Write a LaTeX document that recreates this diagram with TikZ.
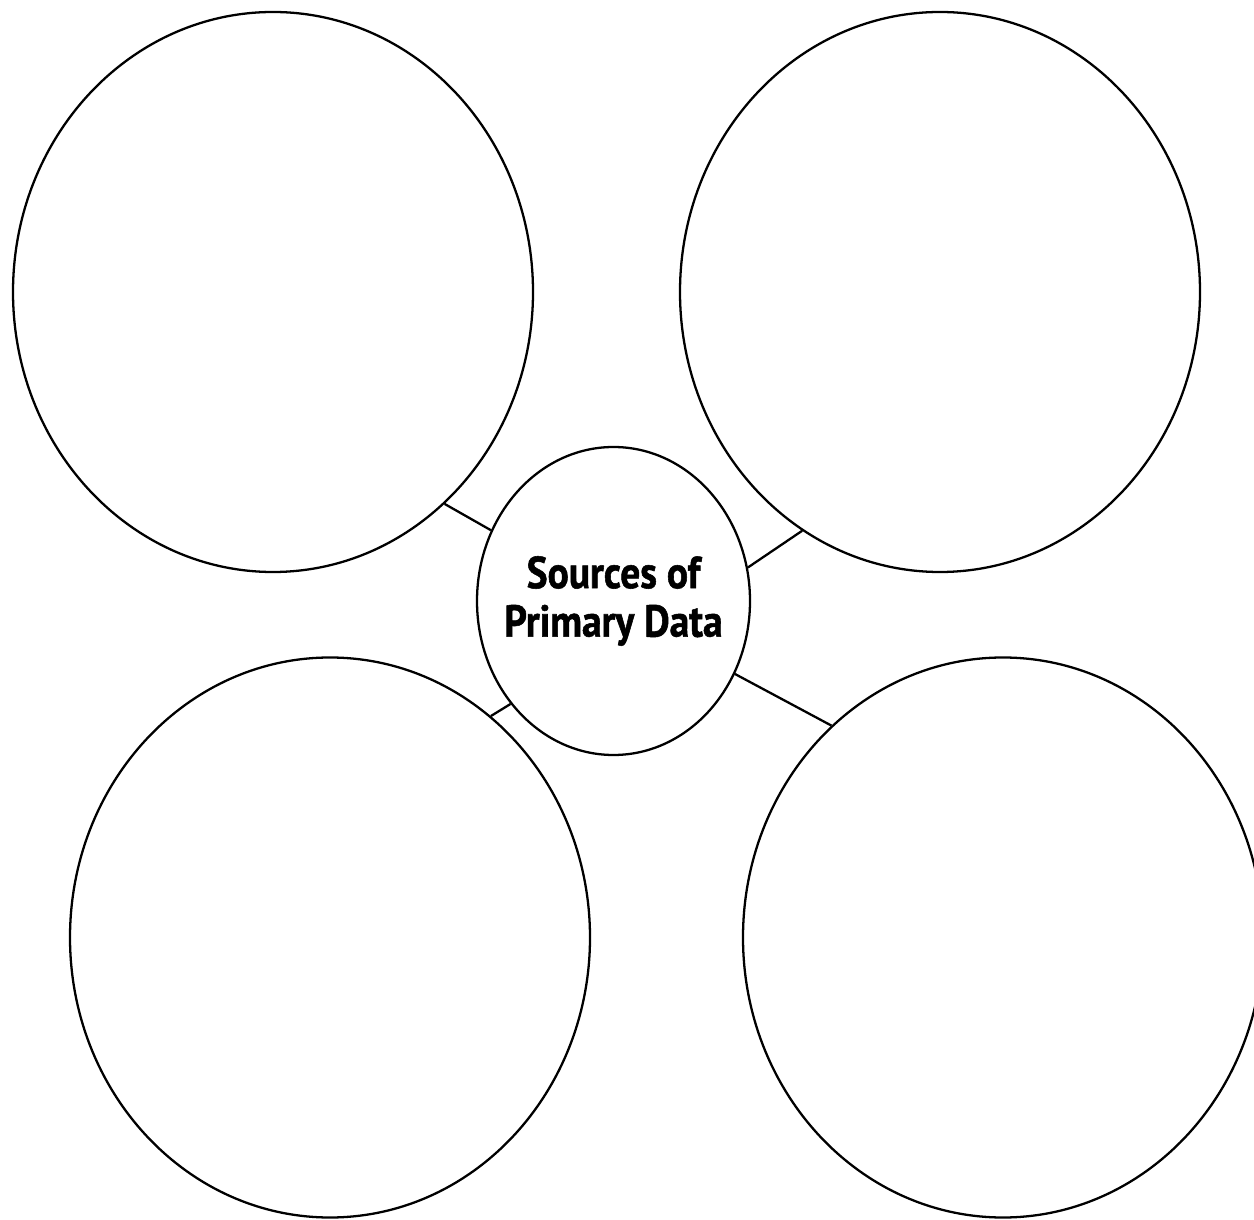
\documentclass[tikz,border=0pt]{standalone}
\usepackage{fontspec}
\setmainfont[FakeStretch=0.88]{PT Sans}
\newfontfamily\hubfont[FakeStretch=0.88, BoldFeatures={FakeBold=1.2}]{PT Sans}
\usetikzlibrary{shapes.geometric}

\begin{document}
\begin{tikzpicture}[
  bubble/.style={ellipse, draw, line width=1.3pt, minimum width=10.4cm, minimum height=11.2cm, inner sep=0pt},
  hub/.style={ellipse, draw, line width=1.3pt, minimum width=5.46cm, minimum height=6.16cm, inner sep=0pt},
  title/.style={align=center, inner sep=0pt, font=\hubfont\fontsize{25.5}{27.6}\selectfont\bfseries},
  link/.style={line width=1.3pt},
]
\useasboundingbox (0,0) rectangle (25.08,24.38);

% === FOUR OUTER BUBBLES ===
\node[bubble] (tl) at (5.46, 18.54) {};
\node[bubble] (tr) at (18.80, 18.54) {};
\node[bubble] (bl) at (6.60, 5.63) {};
\node[bubble] (br) at (20.06, 5.63) {};

% === CENTRE ===
\node[hub] (src) at (12.27, 12.36) {};
\node[title] (srctext) at (src.center) {Sources of\\Primary Data};

\draw[link] (src.150.3) -- (tl.-51.3);
\draw[link] (src.14.4) -- (tr.240.7);
\draw[link] (src.225.1) -- (bl.54.2);
\draw[link] (src.-31.0) -- (br.129.7);
\end{tikzpicture}
\end{document}
